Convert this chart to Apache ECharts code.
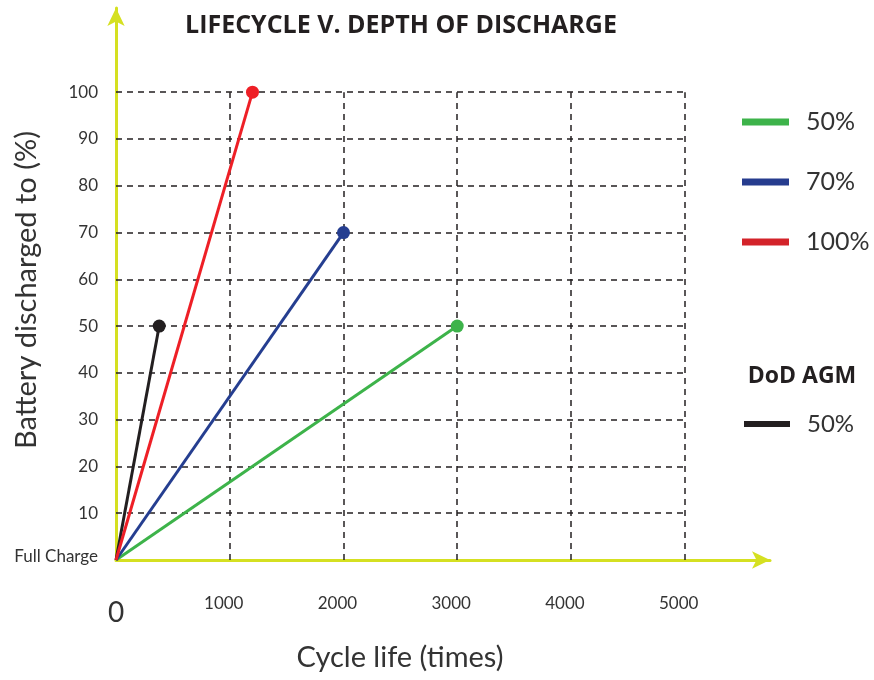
<!DOCTYPE html>
<html>
<head>
<meta charset="utf-8">
<script src="https://cdn.jsdelivr.net/npm/echarts@6/dist/echarts.min.js"></script>
<style>
html,body{margin:0;padding:0;background:#fff;}
#c{width:874px;height:680px;}
</style>
</head>
<body>
<div id="c"></div>
<script>
// ---- data ----
const xTicks = [0, 1000, 2000, 3000, 4000, 5000];
const yTicks = [0, 10, 20, 30, 40, 50, 60, 70, 80, 90, 100];
const seriesNames = ['50%', '70%', '100%', 'AGM 50%'];
const green50 = [[0, 0], [3000, 50]];
const blue70 = [[0, 0], [2000, 70]];
const red100 = [[0, 0], [1200, 100]];
const black50 = [[0, 0], [380, 50]];
const seriesColors = ['#3db34a', '#253e90', '#ee1f26', '#231f20'];
const legendColors = ['#3db34a', '#263c8e', '#d3232a', '#231f20'];

const FONT = 'Lato';
const FONT2 = '"Open Sans"';
const gridX = xTicks.filter(v => v > 0);
const gridY = yTicks.filter(v => v > 0);
const xMaxGrid = xTicks[xTicks.length - 1];
const yMaxGrid = yTicks[yTicks.length - 1];

const gridLinesData = [];
gridY.forEach(v => gridLinesData.push({coords: [[0, v], [xMaxGrid, v]]}));
gridX.forEach(v => gridLinesData.push({coords: [[v, 0], [v, yMaxGrid]]}));

function mk(name, data, color) {
  return {
    name: name,
    type: 'line',
    data: data.map((p, i) => i === 0 ? {value: p, symbol: 'none'} : {value: p}),
    symbol: 'circle',
    symbolSize: 13,
    color: color,
    lineStyle: {width: 3, color: color},
    itemStyle: {color: color},
    z: 5
  };
}

const chart = echarts.init(document.getElementById('c'), null, {renderer: 'canvas'});
const axisColor = '#d5e021';
chart.setOption({
  animation: false,
  textStyle: {fontFamily: FONT},
  grid: {left: 116, top: 8, right: 104, bottom: 120, containLabel: false},
  xAxis: {
    type: 'value', min: 0, max: 5750, interval: 1000,
    axisLine: {show: true, onZero: false, symbol: ['none', 'arrow'], symbolSize: [13, 18],
      lineStyle: {color: axisColor, width: 3}},
    axisTick: {show: false},
    splitLine: {show: false},
    axisLabel: {
      margin: 35, color: '#333', fontSize: 17, fontFamily: FONT,
      formatter: v => xTicks.indexOf(v) < 0 ? '' : (v === 0 ? '{z|0}' : '{n|' + v + '}'),
      rich: {
        z: {fontSize: 28, color: '#333', fontFamily: FONT, padding: [4, 0, 0, 0]},
        n: {fontSize: 17, color: '#333', fontFamily: FONT, padding: [0, 12, 0, 0]}
      }
    }
  },
  yAxis: {
    type: 'value', min: 0, max: 118, interval: 10,
    axisLine: {show: true, onZero: false, symbol: ['none', 'arrow'], symbolSize: [13, 18],
      lineStyle: {color: axisColor, width: 3}},
    axisTick: {show: false},
    splitLine: {show: false},
    axisLabel: {
      margin: 18, color: '#333', fontSize: 17, fontFamily: FONT,
      formatter: v => yTicks.indexOf(v) < 0 ? '' : (v === 0 ? '{f|Full Charge}' : String(v)),
      rich: {f: {fontSize: 17, color: '#333', fontFamily: FONT, padding: [0, 0, 6, 0]}}
    }
  },
  legend: [
    {
      data: seriesNames.slice(0, 3).map((n, i) => ({name: n, icon: 'rect', itemStyle: {color: legendColors[i]}})),
      orient: 'vertical', left: 742, top: 107, padding: 0,
      itemWidth: 47, itemHeight: 7, itemGap: 30,
      textStyle: {fontSize: 25, color: '#333', fontFamily: FONT, lineHeight: 30, padding: [0, 0, 0, 12]},
      selectedMode: false
    },
    {
      data: [{name: seriesNames[3], icon: 'rect', itemStyle: {color: legendColors[3]}}],
      orient: 'vertical', left: 744, top: 409, padding: 0,
      itemWidth: 46, itemHeight: 6,
      formatter: n => n.replace('AGM ', ''),
      textStyle: {fontSize: 24, color: '#333', fontFamily: FONT, lineHeight: 30, padding: [0, 0, 0, 12]},
      selectedMode: false
    }
  ],
  graphic: [
    {type: 'text', x: 401, y: 26, style: {text: 'LIFECYCLE V. DEPTH OF DISCHARGE', font: 'bold 25px ' + FONT2,
      fill: '#231f20', textAlign: 'center', textVerticalAlign: 'middle'}},
    {type: 'text', x: 400, y: 658, style: {text: 'Cycle life (times)', font: '29px ' + FONT,
      fill: '#333', textAlign: 'center', textVerticalAlign: 'middle'}},
    {type: 'text', x: 27, y: 290, rotation: Math.PI / 2, style: {text: 'Battery discharged to (%)', font: '29px ' + FONT,
      fill: '#333', textAlign: 'center', textVerticalAlign: 'middle'}},
    {type: 'text', x: 802, y: 376, style: {text: 'DoD AGM', font: 'bold 23px ' + FONT2,
      fill: '#231f20', textAlign: 'center', textVerticalAlign: 'middle'}}
  ],
  series: [
    {
      name: 'grid', type: 'lines', coordinateSystem: 'cartesian2d', silent: true, z: 1,
      lineStyle: {color: '#231f20', width: 1.5, type: [6, 5], opacity: 1},
      data: gridLinesData
    },
    mk(seriesNames[0], green50, seriesColors[0]),
    mk(seriesNames[1], blue70, seriesColors[1]),
    mk(seriesNames[3], black50, seriesColors[3]),
    mk(seriesNames[2], red100, seriesColors[2])
  ]
});
</script>
</body>
</html>
